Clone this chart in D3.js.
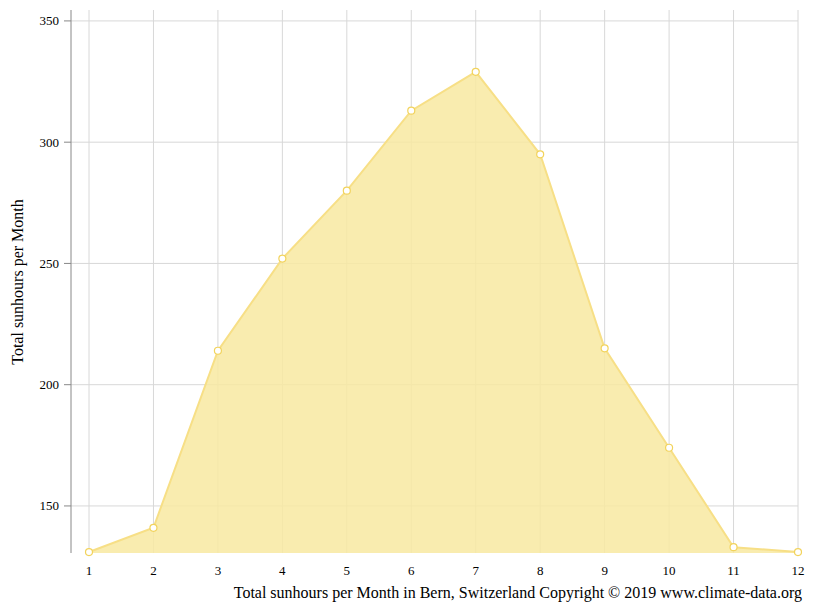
<!DOCTYPE html>
<html><head><meta charset="utf-8">
<script src="https://cdn.jsdelivr.net/npm/d3@7"></script>
<style>body{margin:0;background:#fff}text{font-family:"Liberation Serif",serif}</style>
</head><body><svg id="chart" width="815" height="611"></svg>
<script>
const months = [1, 2, 3, 4, 5, 6, 7, 8, 9, 10, 11, 12];
const sunhours = [131, 141, 214, 252, 280, 313, 329, 295, 215, 174, 133, 131];
const yTicks = [150, 200, 250, 300, 350];

const svg = d3.select("#chart");
const x = d3.scaleLinear().domain([1, 12]).range([89, 798]);
const y = d3.scaleLinear().domain([130.6, 354.5]).range([553, 10]);

// grid
svg.append("g").selectAll("line").data(months).enter().append("line")
    .attr("x1", d => x(d)).attr("x2", d => x(d)).attr("y1", 10).attr("y2", 553)
    .attr("stroke", "#d8d8d8");
svg.append("g").selectAll("line").data(yTicks).enter().append("line")
    .attr("x1", 71).attr("x2", 798).attr("y1", d => y(d)).attr("y2", d => y(d))
    .attr("stroke", "#d8d8d8");

const data = months.map((m, i) => ({ m, v: sunhours[i] }));
svg.append("path").datum(data)
    .attr("d", d3.area().x(d => x(d.m)).y0(553).y1(d => y(d.v)))
    .attr("fill", "#f8e9a1").attr("fill-opacity", 0.85);
svg.append("path").datum(data)
    .attr("d", d3.line().x(d => x(d.m)).y(d => y(d.v)))
    .attr("fill", "none").attr("stroke", "#f7df86").attr("stroke-width", 2);
svg.append("g").selectAll("circle").data(data).enter().append("circle")
    .attr("cx", d => x(d.m)).attr("cy", d => y(d.v)).attr("r", 3.5)
    .attr("fill", "#fff").attr("stroke", "#f2d35c").attr("stroke-width", 1.2);

// axes
svg.append("line").attr("x1", 71).attr("x2", 71).attr("y1", 10).attr("y2", 553).attr("stroke", "#888");
svg.append("g").selectAll("line").data(yTicks).enter().append("line")
    .attr("x1", 64).attr("x2", 71).attr("y1", d => y(d)).attr("y2", d => y(d)).attr("stroke", "#888");
svg.append("g").selectAll("text").data(yTicks).enter().append("text")
    .attr("x", 59).attr("y", d => y(d) + 4.5).attr("text-anchor", "end")
    .attr("font-size", 13).text(d => d);
svg.append("g").selectAll("text").data(months).enter().append("text")
    .attr("x", d => x(d)).attr("y", 575).attr("text-anchor", "middle")
    .attr("font-size", 13).text(d => d);

svg.append("text").attr("transform", "translate(23,282) rotate(-90)")
    .attr("text-anchor", "middle").attr("font-size", 16).text("Total sunhours per Month");
svg.append("text").attr("x", 802).attr("y", 598).attr("text-anchor", "end")
    .attr("font-size", 16).text("Total sunhours per Month in Bern, Switzerland Copyright © 2019 www.climate-data.org");
</script></body></html>
